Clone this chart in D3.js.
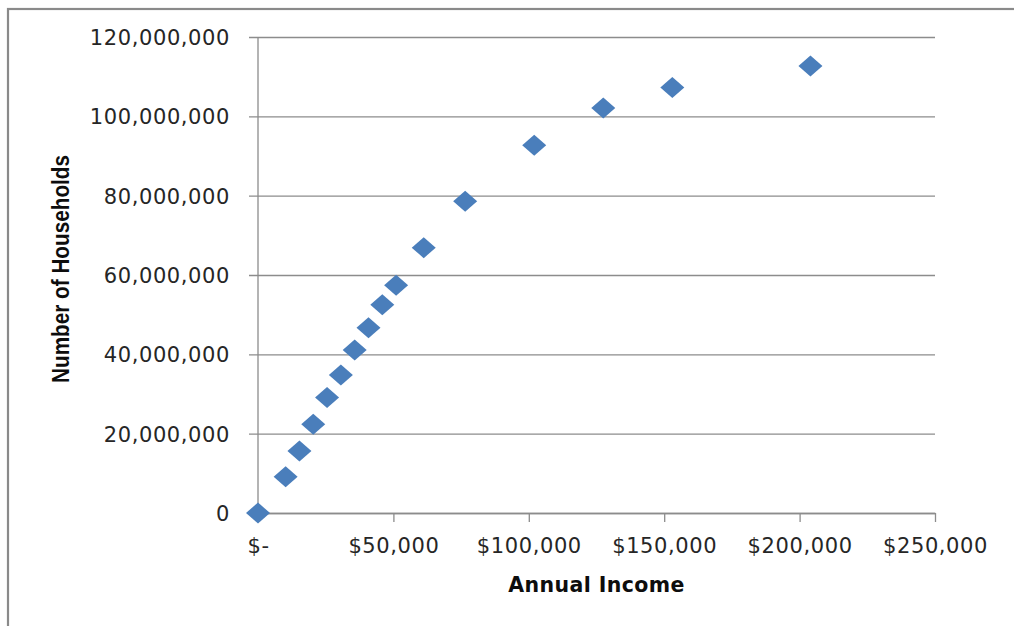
<!DOCTYPE html>
<html>
<head>
<meta charset="utf-8">
<script src="https://cdn.jsdelivr.net/npm/d3@7"></script>
<style>
    body { margin: 0; background: #fff; }
    svg { display: block; }
</style>
</head>
<body>
<div id="chart"></div>
<script>
// Annual income ($) and cumulative number of households
const incomes = [0, 10200, 15300, 20400, 25500, 30600, 35700, 40800, 45900, 51000,
    61200, 76500, 102000, 127500, 153000, 204000];
const households = [0, 9150000, 15600000, 22400000, 29100000, 34800000, 41100000, 46700000,
    52500000, 57400000, 66900000, 78600000, 92700000, 102100000, 107300000, 112700000];

const xTicks = [0, 50000, 100000, 150000, 200000, 250000];
const yTicks = [0, 20000000, 40000000, 60000000, 80000000, 100000000, 120000000];

const width = 1014, height = 626;
const margin = {top: 37, right: 79, bottom: 113, left: 258};

const svg = d3.select("#chart").append("svg")
    .attr("width", width)
    .attr("height", height);

// chart frame (only top and left edges fall inside the window)
svg.append("rect")
    .attr("x", 8).attr("y", 9)
    .attr("width", 1100).attr("height", 700)
    .attr("fill", "none")
    .attr("stroke", "#8a8a8a")
    .attr("stroke-width", 2.2);

const x = d3.scaleLinear()
    .domain([0, 250000])
    .range([margin.left, width - margin.right]);

const y = d3.scaleLinear()
    .domain([0, 120000000])
    .range([height - margin.bottom, margin.top]);

const gridColor = "#8c8c8c";
const tickFont = "'DejaVu Sans', Verdana, sans-serif";

// y axis with gridlines
const yAxis = svg.append("g")
    .attr("transform", `translate(${margin.left},0)`)
    .call(d3.axisLeft(y)
        .tickValues(yTicks)
        .tickSize(-(x.range()[1] - x.range()[0]))
        .tickPadding(28)
        .tickFormat(d3.format(",")));

yAxis.select(".domain").remove();
yAxis.selectAll(".tick line")
    .attr("x1", -9)
    .attr("stroke", gridColor)
    .attr("stroke-width", 1.3);
yAxis.selectAll(".tick text")
    .attr("font-family", tickFont)
    .attr("font-size", 21)
    .attr("letter-spacing", 0.6)
    .attr("fill", "#262626")
    .attr("dy", "0.36em");

// vertical axis line
svg.append("line")
    .attr("x1", x(0)).attr("x2", x(0))
    .attr("y1", y(120000000)).attr("y2", y(0))
    .attr("stroke", gridColor)
    .attr("stroke-width", 1.3);

// x axis
const xAxis = svg.append("g")
    .attr("transform", `translate(0,${y(0)})`)
    .call(d3.axisBottom(x)
        .tickValues(xTicks)
        .tickSize(9)
        .tickSizeOuter(0)
        .tickPadding(16)
        .tickFormat(d => d === 0 ? "$-" : "$" + d3.format(",")(d)));

xAxis.select(".domain")
    .attr("stroke", gridColor)
    .attr("stroke-width", 1.3);
xAxis.selectAll(".tick line")
    .attr("stroke", gridColor)
    .attr("stroke-width", 1.3);
xAxis.selectAll(".tick")
    .filter(d => d === 0)
    .select("line").remove();
xAxis.selectAll(".tick text")
    .attr("font-family", tickFont)
    .attr("font-size", 21)
    .attr("letter-spacing", 0.6)
    .attr("fill", "#262626");

// axis titles
svg.append("text")
    .attr("x", (x.range()[0] + x.range()[1]) / 2)
    .attr("y", 592)
    .attr("text-anchor", "middle")
    .attr("font-family", tickFont)
    .attr("font-weight", "bold")
    .attr("font-size", 20.5)
    .attr("letter-spacing", 0.4)
    .attr("fill", "#0d0d0d")
    .text("Annual Income");

svg.append("text")
    .attr("transform", "translate(69,269) rotate(-90)")
    .attr("text-anchor", "middle")
    .attr("font-family", "'Liberation Sans Narrow', 'Liberation Sans', Arial, sans-serif")
    .attr("font-weight", "bold")
    .attr("font-size", 24)
    .attr("textLength", 228)
    .attr("lengthAdjust", "spacingAndGlyphs")
    .attr("fill", "#0d0d0d")
    .text("Number of Households");

// diamond markers
const points = incomes.map((d, i) => ({income: d, count: households[i]}));

svg.append("g")
    .selectAll("path")
    .data(points)
    .enter().append("path")
    .attr("transform", d => `translate(${x(d.income)},${y(d.count)})`)
    .attr("d", "M0,-10.5L12,0L0,10.5L-12,0Z")
    .attr("fill", "#4a7ebb");
</script>
</body>
</html>
